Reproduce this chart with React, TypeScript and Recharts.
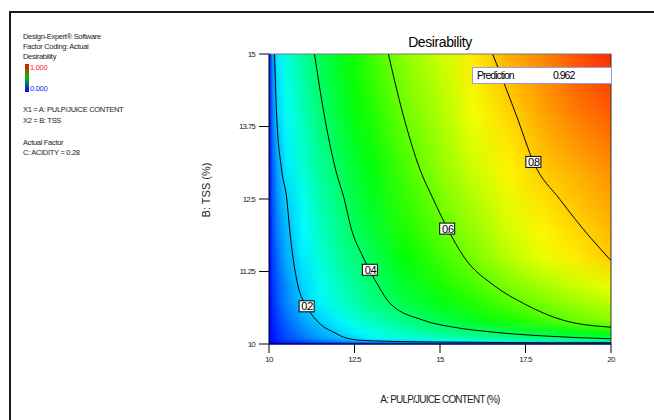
import {
  ComposedChart,
  Line,
  ReferenceArea,
  ReferenceDot,
  ReferenceLine,
  XAxis,
  YAxis,
} from "recharts";

// A: pulp/juice content (%) columns, B: TSS (%) rows
const xCols = [10, 10.1, 10.25, 10.5, 11, 11.5, 12, 12.5, 13, 14, 15, 16, 17, 18, 19, 20];
const yRows = [10, 10.05, 10.1, 10.2, 10.4, 10.7, 11, 11.5, 12, 13, 14, 15];

// desirability, one array per TSS row
const dY1000 = [0, 0, 0, 0, 0, 0, 0, 0, 0, 0, 0, 0, 0, 0, 0, 0];
const dY1005 = [0, 0.01, 0.03, 0.05, 0.08, 0.11, 0.14, 0.17, 0.19, 0.22, 0.25, 0.27, 0.29, 0.31, 0.33, 0.35];
const dY1010 = [0, 0.02, 0.04, 0.07, 0.11, 0.15, 0.18, 0.21, 0.24, 0.28, 0.31, 0.34, 0.36, 0.38, 0.4, 0.41];
const dY1020 = [0, 0.02, 0.05, 0.08, 0.13, 0.17, 0.205, 0.24, 0.27, 0.32, 0.36, 0.39, 0.42, 0.45, 0.48, 0.51];
const dY1040 = [0, 0.03, 0.06, 0.1, 0.16, 0.2, 0.24, 0.28, 0.31, 0.37, 0.42, 0.47, 0.52, 0.56, 0.6, 0.63];
const dY1070 = [0, 0.04, 0.08, 0.13, 0.195, 0.24, 0.29, 0.33, 0.37, 0.43, 0.48, 0.53, 0.58, 0.62, 0.65, 0.68];
const dY1100 = [0, 0.05, 0.09, 0.14, 0.21, 0.26, 0.31, 0.35, 0.39, 0.46, 0.52, 0.57, 0.62, 0.66, 0.7, 0.73];
const dY1150 = [0, 0.06, 0.11, 0.17, 0.23, 0.29, 0.34, 0.38, 0.42, 0.5, 0.56, 0.62, 0.68, 0.73, 0.77, 0.8];
const dY1200 = [0, 0.07, 0.13, 0.18, 0.25, 0.31, 0.36, 0.41, 0.45, 0.53, 0.59, 0.65, 0.71, 0.76, 0.79, 0.82];
const dY1300 = [0, 0.09, 0.16, 0.23, 0.29, 0.35, 0.4, 0.45, 0.49, 0.57, 0.64, 0.7, 0.76, 0.8, 0.83, 0.86];
const dY1400 = [0, 0.12, 0.21, 0.26, 0.32, 0.39, 0.44, 0.49, 0.53, 0.61, 0.67, 0.74, 0.79, 0.84, 0.88, 0.91];
const dY1500 = [0, 0.14, 0.23, 0.28, 0.35, 0.42, 0.47, 0.52, 0.56, 0.64, 0.7, 0.77, 0.83, 0.87, 0.92, 0.96];
const dRows = [dY1000, dY1005, dY1010, dY1020, dY1040, dY1070, dY1100, dY1150, dY1200, dY1300, dY1400, dY1500];

// contour lines
const c02 = [
  { x: 10.16, y: 15 }, { x: 10.22, y: 14 }, { x: 10.37, y: 13 }, { x: 10.52, y: 12.5 },
  { x: 10.6, y: 12 }, { x: 10.7, y: 11.5 }, { x: 10.85, y: 11 }, { x: 11.1, y: 10.65 },
  { x: 11.4, y: 10.4 }, { x: 11.59, y: 10.3 }, { x: 11.9, y: 10.2 }, { x: 12.27, y: 10.1 },
  { x: 12.8, y: 10.06 }, { x: 14, y: 10.04 }, { x: 16, y: 10.03 }, { x: 18, y: 10.02 }, { x: 20, y: 10.02 },
];
const c04 = [
  { x: 11.33, y: 15 }, { x: 11.6, y: 14 }, { x: 11.95, y: 13 }, { x: 12.2, y: 12.5 },
  { x: 12.4, y: 12 }, { x: 12.75, y: 11.5 }, { x: 13.2, y: 11 }, { x: 13.54, y: 10.7 },
  { x: 14.51, y: 10.41 }, { x: 15.5, y: 10.28 }, { x: 16.46, y: 10.21 }, { x: 18, y: 10.14 }, { x: 20, y: 10.09 },
];
const c06 = [
  { x: 13.49, y: 15 }, { x: 13.9, y: 14 }, { x: 14.42, y: 13 }, { x: 14.8, y: 12.5 },
  { x: 15.21, y: 12 }, { x: 15.7, y: 11.5 }, { x: 16.6, y: 11 }, { x: 17.44, y: 10.7 },
  { x: 18.6, y: 10.41 }, { x: 20, y: 10.29 },
];
const c08 = [
  { x: 16.54, y: 15 }, { x: 17.29, y: 13.85 }, { x: 17.73, y: 13.14 }, { x: 18.51, y: 12.49 },
  { x: 19.39, y: 11.84 }, { x: 20, y: 11.44 },
];
const contours = [c02, c04, c06, c08];

const contourLabels = [
  { text: "0.2", x: 11.1, y: 10.65 },
  { text: "0.4", x: 12.95, y: 11.28 },
  { text: "0.6", x: 15.21, y: 11.99 },
  { text: "0.8", x: 17.73, y: 13.14 },
];

const xTicks = [10, 12.5, 15, 17.5, 20];
const yTicks = [10, 11.25, 12.5, 13.75, 15];
const prediction = "0.962";

const FONT = "'Liberation Sans', Arial, sans-serif";

// blue -> cyan -> green -> yellow -> red
function colorOf(v: number) {
  const t = Math.max(0, Math.min(1, v)) * 4;
  let r = 0, g = 0, b = 0;
  if (t < 1) { g = t; b = 1; }
  else if (t < 2) { g = 1; b = 2 - t; }
  else if (t < 3) { r = t - 2; g = 1; }
  else { r = 1; g = 4 - t; }
  return `rgb(${Math.round(r * 255)},${Math.round(g * 255)},${Math.round(b * 255)})`;
}

const Defs = () => (
  <defs>
    {dRows.map((row, i) => (
      <linearGradient key={i} id={`row${i}`} x1="0" y1="0" x2="1" y2="0">
        {row.map((v, j) => (
          <stop key={j} offset={(xCols[j] - 10) / 10} stopColor={colorOf(v)} />
        ))}
      </linearGradient>
    ))}
    <linearGradient id="fadeGrad" x1="0" y1="0" x2="0" y2="1">
      <stop offset="0" stopColor="#fff" />
      <stop offset="1" stopColor="#000" />
    </linearGradient>
    <mask id="fadeUp" maskContentUnits="objectBoundingBox">
      <rect x="0" y="0" width="1" height="1" fill="url(#fadeGrad)" />
    </mask>
  </defs>
);

function bandShape(lo: number) {
  return (p: any) => (
    <g>
      {lo === 0 && <Defs />}
      <rect x={p.x} y={p.y} width={p.width} height={p.height + 0.5} fill={`url(#row${lo})`} />
      <rect x={p.x} y={p.y} width={p.width} height={p.height + 0.5} fill={`url(#row${lo + 1})`} mask="url(#fadeUp)" />
    </g>
  );
}

function labelShape(text: string) {
  return (p: any) => (
    <g>
      <rect x={p.cx - 7.5} y={p.cy - 5.5} width={15} height={11} fill="#fff" stroke="#000" strokeWidth={1} />
      <text x={p.cx} y={p.cy + 4} textAnchor="middle" fontSize={11} fontFamily={FONT} letterSpacing={-1.6} fill="#000">
        {text}
      </text>
    </g>
  );
}

const txt: React.CSSProperties = { position: "absolute", fontFamily: FONT, whiteSpace: "nowrap", color: "#222" };
const leftTxt: React.CSSProperties = { ...txt, left: 23, fontSize: 7.5, letterSpacing: -0.3, lineHeight: "10px" };

export default function App() {
  return (
    <div style={{ position: "absolute", left: 0, top: 0, width: 654, height: 420, overflow: "hidden", background: "#fff" }}>
      <div style={{ position: "absolute", left: 9, top: 11, width: 700, height: 500, border: "2px solid #1a1a1a" }} />

      <div style={{ ...leftTxt, top: 32 }}>Design-Expert® Software</div>
      <div style={{ ...leftTxt, top: 42 }}>Factor Coding: Actual</div>
      <div style={{ ...leftTxt, top: 52 }}>Desirability</div>
      <div style={{ position: "absolute", left: 25, top: 64, width: 4, height: 28, background: "linear-gradient(#ff0000, #00c000 50%, #0000ff)" }} />
      <div style={{ ...leftTxt, left: 30, top: 63, color: "#ff2020" }}>1.000</div>
      <div style={{ ...leftTxt, left: 30, top: 84, color: "#2020ff" }}>0.000</div>
      <div style={{ ...leftTxt, top: 105 }}>X1 = A: PULP/JUICE CONTENT</div>
      <div style={{ ...leftTxt, top: 116 }}>X2 = B: TSS</div>
      <div style={{ ...leftTxt, top: 138 }}>Actual Factor</div>
      <div style={{ ...leftTxt, top: 148 }}>C: ACIDITY = 0.28</div>

      <ComposedChart width={654} height={420} margin={{ top: 54, right: 43, bottom: 46, left: 149 }}>
        <XAxis
          type="number"
          dataKey="x"
          domain={[10, 20]}
          ticks={xTicks}
          allowDataOverflow
          tickSize={9}
          tickMargin={3}
          tick={{ fontSize: 8, fontFamily: FONT, fill: "#222", letterSpacing: -0.8 }}
          axisLine={{ stroke: "#000" }}
          tickLine={{ stroke: "#000" }}
          height={30}
        />
        <YAxis
          type="number"
          dataKey="y"
          domain={[10, 15]}
          ticks={yTicks}
          allowDataOverflow
          tickSize={10}
          tickMargin={4}
          tick={{ fontSize: 8, fontFamily: FONT, fill: "#222", letterSpacing: -0.8 }}
          axisLine={{ stroke: "#000" }}
          tickLine={{ stroke: "#000" }}
          width={120}
        />
        {yRows.slice(0, -1).map((y, i) => (
          <ReferenceArea key={`b${i}`} x1={10} x2={20} y1={y} y2={yRows[i + 1]} shape={bandShape(i)} />
        ))}
        {contours.map((c, i) => (
          <Line
            key={`c${i}`}
            data={c}
            dataKey="y"
            type="monotone"
            stroke="#000"
            strokeWidth={1}
            dot={false}
            activeDot={false}
            isAnimationActive={false}
          />
        ))}
        <ReferenceLine y={15} stroke="#777" />
        <ReferenceLine x={20} stroke="#333" />
        {contourLabels.map((l) => (
          <ReferenceDot key={l.text} x={l.x} y={l.y} r={5} shape={labelShape(l.text)} />
        ))}
      </ComposedChart>

      <svg width={654} height={420} style={{ position: "absolute", left: 0, top: 0, pointerEvents: "none" }}>
        <text x={440} y={47} textAnchor="middle" fontSize={14} fontFamily={FONT} letterSpacing={-0.4} fill="#000">
          Desirability
        </text>
        <text x={440} y={403} textAnchor="middle" fontSize={10} fontFamily={FONT} letterSpacing={-0.8} fill="#222">
          A: PULP/JUICE CONTENT (%)
        </text>
        <text x={210} y={190} transform="rotate(-90 210 190)" textAnchor="middle" fontSize={11} fontFamily={FONT} fill="#222">
          B: TSS (%)
        </text>
      </svg>

      <div style={{ position: "absolute", left: 472, top: 67, width: 138, height: 15, border: "1px solid #9a9aee", background: "#fff" }}>
        <span style={{ ...txt, left: 4, top: 1, fontSize: 10.5, letterSpacing: -1, color: "#000" }}>Prediction</span>
        <span style={{ ...txt, left: 80, top: 1, fontSize: 10.5, letterSpacing: -1, color: "#000" }}>{prediction}</span>
      </div>
    </div>
  );
}
